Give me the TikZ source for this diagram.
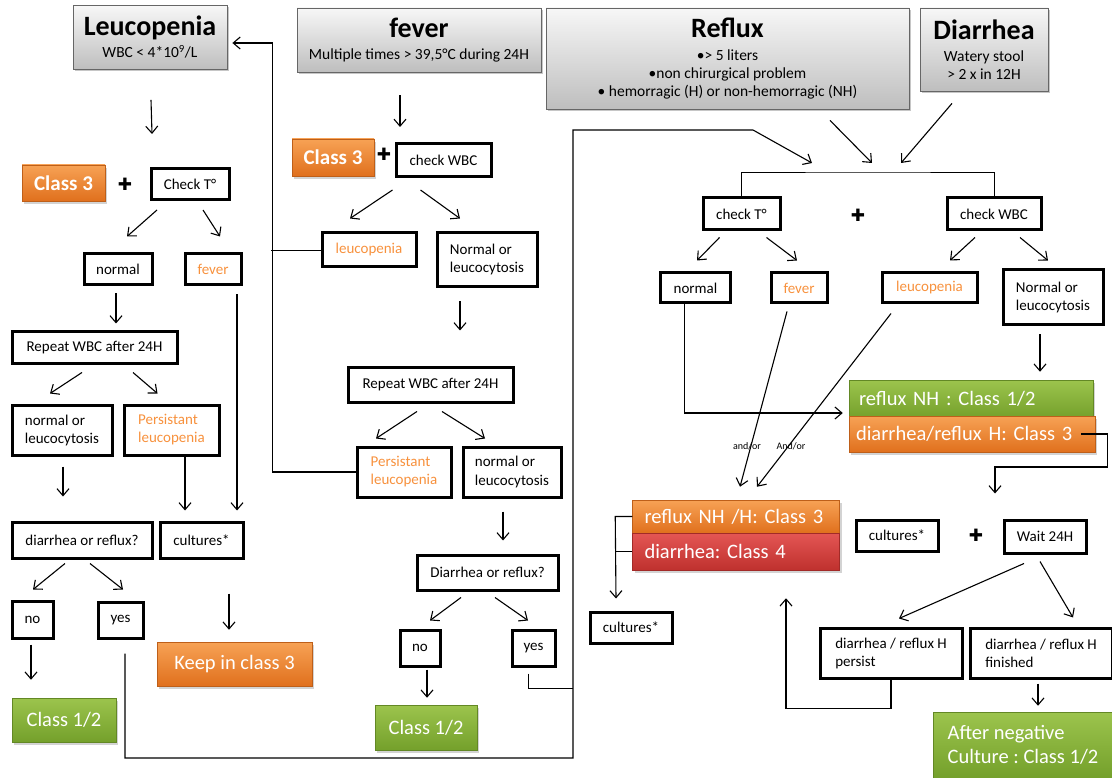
\documentclass[tikz,border=0pt]{standalone}
\usepackage{fontspec}
\setmainfont{Carlito}
\newfontfamily\symfont{DejaVu Sans}
\usetikzlibrary{arrows.meta,shadows}

\definecolor{hdrtop}{HTML}{F7F7F7}
\definecolor{hdrbot}{HTML}{BEBEBE}
\definecolor{orgtop}{HTML}{F7A255}
\definecolor{orgbot}{HTML}{E0701D}
\definecolor{grntop}{HTML}{9CC44D}
\definecolor{grnbot}{HTML}{74A02B}
\definecolor{redtop}{HTML}{E45654}
\definecolor{redbot}{HTML}{BF312E}
\definecolor{orgtxt}{HTML}{F7913D}

\newcommand\hdtitle[1]{{\fontsize{28}{30}\selectfont\bfseries #1}}

\tikzset{
  arr/.style={-{Straight Barb[length=7pt,width=12pt]}, line width=1.1pt},
  sz/.style 2 args={minimum width=#1, minimum height=#2},
  box/.style={draw, line width=3pt, inner sep=3pt, align=center, font=\fontsize{15}{18}\selectfont},
  boxl/.style={box, align=left},
  warn/.style={box, text=orgtxt},
  hdr/.style={draw=black!60, line width=0.8pt, top color=hdrtop, bottom color=hdrbot,
    align=center, inner sep=2pt, font=\fontsize{15.5}{18}\selectfont,
    drop shadow={shadow xshift=2pt, shadow yshift=-2pt, opacity=0.45}},
  cls/.style={text=white, inner sep=0pt, font=\fontsize{20.5}{24}\selectfont,
    drop shadow={shadow xshift=2pt, shadow yshift=-3pt, opacity=0.35}},
  orng/.style={cls, top color=orgtop, bottom color=orgbot, draw=orgbot!85!black, line width=0.5pt},
  grn/.style={cls, top color=grntop, bottom color=grnbot, draw=grnbot!85!black, line width=0.5pt},
  rd/.style={cls, top color=redtop, bottom color=redbot, draw=redbot!85!black, line width=0.5pt},
  plus/.style={font=\symfont\fontsize{17}{17}\selectfont, inner sep=0pt},
  hint/.style={font=\fontsize{10}{12}\selectfont, inner sep=1pt}
}

\begin{document}
\frenchspacing
\begin{tikzpicture}[x=1pt, y=-1pt]
\useasboundingbox (0,0) rectangle (1112,778);

% headers
\node[hdr, sz={154}{64}] (leuH) at (150,37.5) {\hdtitle{Leucopenia}\\[4pt] WBC < 4*10\textsuperscript{9}/L};
\node[hdr, sz={244}{64}] (fevH) at (419,40) {\hdtitle{fever}\\[4pt] Multiple times > 39,5°C during 24H};
\node[hdr, sz={363}{101}] (refH) at (727.5,58.5) {\hdtitle{Reflux}\\[5pt] •> 5 liters\\ •non chirurgical problem\\ • hemorragic (H) or non-hemorragic (NH)};
\node[hdr, sz={128}{83}] (diaH) at (984,49.5) {\hdtitle{Diarrhea}\\[4pt] Watery stool\\ > 2 x in 12H};

% leucopenia column
\node[orng, sz={83}{36}, font=\fontsize{21}{24}\selectfont\bfseries] (cls3a) at (63.5,183) {Class 3};
\node[plus] (plus1) at (125,184) {✚};
\node[box, sz={78}{31}] (chkT) at (190,184) {Check T°};
\node[box, sz={68}{31}] (normA) at (118,269.5) {normal};
\node[warn, sz={56}{31}] (fevA) at (213,269.5) {fever};
\node[box, sz={165}{31}] (repA) at (94.5,347.5) {Repeat WBC after 24H};
\node[boxl, sz={100}{50}] (nlA) at (62,430) {normal or\\leucocytosis};
\node[warn, align=left, sz={95}{50}] (plA) at (171.5,430) {Persistant\\leucopenia};
\node[box, sz={140}{36}] (dorA) at (82,540) {diarrhea or reflux?};
\node[box, sz={83}{36}] (culA) at (201.5,540) {cultures*};
\node[box, sz={41}{37}] (noA) at (32.5,619.5) {no};
\node[box, sz={45}{36}] (yesA) at (120.5,620) {yes};
\node[grn, sz={104}{44}] (c12A) at (64,720) {Class 1/2};
\node[orng, sz={155}{44}] (keepA) at (234.5,664) {Keep in class 3};

% fever column
\node[orng, sz={82}{37}, font=\fontsize{21}{24}\selectfont\bfseries] (cls3b) at (333,157.5) {Class 3};
\node[plus] (plus2) at (384,154) {✚};
\node[box, sz={95}{33}] (chkWB) at (443.5,160) {check WBC};
\node[warn, sz={94}{34}] (leuB) at (369,250) {leucopenia};
\node[boxl, sz={100}{54}] (nlB) at (487,260) {Normal or\\leucocytosis};
\node[box, sz={165}{35}] (repB) at (430.5,384.5) {Repeat WBC after 24H};
\node[warn, align=left, sz={94}{50}] (plB) at (404,472) {Persistant\\leucopenia};
\node[boxl, sz={98}{50}] (nlB2) at (512,472) {normal or\\leucocytosis};
\node[box, sz={141}{35}] (dorB) at (487.5,572.5) {Diarrhea or reflux?};
\node[box, sz={40}{36}] (noB) at (420,648) {no};
\node[box, sz={43}{36}] (yesB) at (533.5,648) {yes};
\node[grn, sz={102}{45}] (c12B) at (426,727.5) {Class 1/2};

% reflux / diarrhea part
\node[box, sz={77}{32}] (chkTR) at (741.5,214) {check T°};
\node[plus] (plus3) at (858,215) {✚};
\node[box, sz={94}{32}] (chkWR) at (994,214) {check WBC};
\node[box, sz={70}{30}] (normR) at (695.5,288) {normal};
\node[warn, sz={56}{30}] (fevR) at (799,288) {fever};
\node[warn, sz={95}{30}] (leuR) at (929.5,288) {leucopenia};
\node[boxl, sz={100}{55}] (nlR) at (1053,297.5) {Normal or\\leucocytosis};
\node[grn, sz={244}{38}, inner xsep=10pt, text width=224pt, align=left] (nhG) at (971,399) {reflux NH : Class 1/2};
\node[orng, sz={246}{36}, inner xsep=7pt, text width=232pt, align=left] (hO) at (972,434) {diarrhea/reflux H: Class 3};
\node[orng, sz={207}{33}, inner xsep=12pt, text width=183pt, align=left] (c3O) at (736,516.5) {reflux NH /H: Class 3};
\node[rd, sz={207}{37}, inner xsep=12pt, text width=183pt, align=left] (c4R) at (736,551.5) {diarrhea: Class 4};
\node[hint] (ao1) at (747,446) {and/or};
\node[hint] (ao2) at (791,446) {And/or};
\node[box, sz={82}{31}] (culL) at (631,627.5) {cultures*};
\node[box, sz={82}{31}] (culR) at (897,535.5) {cultures*};
\node[plus] (plus4) at (976,535) {✚};
\node[box, sz={82}{33}] (waitR) at (1045,536.5) {Wait 24H};
\node[boxl, sz={142}{50}] (perR) at (891,653) {diarrhea / reflux H\\persist};
\node[boxl, sz={142}{50}] (finR) at (1041,653) {diarrhea / reflux H\\finished};
\node[grn, sz={180}{66}, align=left] (negG) at (1023,745) {After negative\\Culture : Class 1/2};

\coordinate (join) at (868,172);
\coordinate (lowR) at (573,758);
\coordinate (upL) at (573,130);
\coordinate (upR) at (753,130);
\coordinate (yesJ) at (573,688);

% leucopenia arrows
\draw[arr] ([shift={(1,30)}]leuH.south) -- ([shift={(-38,-33)}]chkT.north);
\draw[arr] ([shift={(-33,9)}]chkT.south) -- ([shift={(9,-16)}]normA.north);
\draw[arr] ([shift={(13,9)}]chkT.south) -- ([shift={(7,-16)}]fevA.north);
\draw[arr] ([shift={(-2,7)}]normA.south) -- ([shift={(21.5,-7)}]repA.north);
\draw[arr] ([shift={(-12.5,8)}]repA.south) -- ([shift={(-12,-10)}]nlA.north);
\draw[arr] ([shift={(38.5,8)}]repA.south) -- ([shift={(-14,-10)}]plA.north);
\draw[arr] ([shift={(1,10)}]nlA.south) -- ([shift={(-19,-24)}]dorA.north);
\draw[arr] ([shift={(13.5,0)}]plA.south) -- ([shift={(-16.5,-10)}]culA.north);
\draw[arr] ([shift={(24,8)}]fevA.south) -- ([shift={(35.5,-10)}]culA.north);
\draw[arr] ([shift={(-17,4)}]dorA.south) -- ([shift={(0.5,-10)}]noA.north);
\draw[arr] ([shift={(8,4)}]dorA.south) -- ([shift={(2.5,-11)}]yesA.north);
\draw[arr] ([shift={(-1.5,5)}]noA.south) -- ([shift={(-33,-18)}]c12A.north);
\draw[arr] ([shift={(27.5,34)}]culA.south) -- ([shift={(-5.5,-12)}]keepA.north);

% fever arrows
\draw[arr] ([shift={(-19,23)}]fevH.south) -- ([shift={(-43.5,-15)}]chkWB.north);
\draw[arr] ([shift={(-51,12)}]chkWB.south) -- ([shift={(-19,-13)}]leuB.north);
\draw[arr] ([shift={(-23,12)}]chkWB.south) -- ([shift={(-27,-13)}]nlB.north);
\draw[arr] ([shift={(-27,13)}]nlB.south) -- ([shift={(29.5,-35)}]repB.north);
\draw[arr] ([shift={(-13.5,8)}]repB.south) -- ([shift={(-28,-7)}]plB.north);
\draw[arr] ([shift={(11.5,8)}]repB.south) -- ([shift={(-27,-7)}]nlB2.north);
\draw[arr] ([shift={(-9,13)}]nlB2.south) -- ([shift={(15.5,-13)}]dorB.north);
\draw[arr] ([shift={(-26.5,6)}]dorB.south) -- ([shift={(10,-8)}]noB.north);
\draw[arr] ([shift={(7.5,6)}]dorB.south) -- ([shift={(-5.5,-8)}]yesB.north);
\draw[arr] ([shift={(7,2)}]noB.south) -- ([shift={(1,-7)}]c12B.north);

% back to leucopenia
\draw (leuB.west) -- ([xshift=-85]plB.west |- leuB.west);
\draw[arr] (plB.west) -| ([shift={(45,5.5)}]leuH.east) -- ([shift={(5,5.5)}]leuH.east);

% yes lines to the reflux part
\draw[arr] ([shift={(4.5,14)}]yesA.south) |- (lowR) -- (upL) -- (upR) -- ([shift={(-56,-9)}]join);
\draw ([shift={(-5.5,6)}]yesB.south) |- (yesJ);

% reflux / diarrhea arrows
\draw[arr] ([shift={(102.5,11)}]refH.south) -- ([shift={(4,-9)}]join);
\draw[arr] ([shift={(-32,12)}]diaH.south) -- ([shift={(33,-9)}]join);
\draw (chkTR.north) |- (join) -| (chkWR.north);
\draw[arr] ([shift={(-22,6)}]chkTR.south) -- ([shift={(1.5,-11)}]normR.north);
\draw[arr] ([shift={(25,6)}]chkTR.south) -- ([shift={(-2,-11)}]fevR.north);
\draw[arr] ([shift={(-19,6)}]chkWR.south) -- ([shift={(20.5,-11)}]leuR.north);
\draw[arr] ([shift={(26,6)}]chkWR.south) -- ([shift={(-5,-8)}]nlR.north);
\draw[arr] ([xshift=-11]normR.south) |- ([shift={(-6,14)}]nhG.west);
\draw[arr] ([shift={(-13,8)}]nlR.south) -- ([shift={(69,-8)}]nhG.north);
\draw[arr] ([shift={(-12,7)}]fevR.south) -- ([shift={(4,-13)}]c3O.north);
\draw[arr] ([shift={(-38.5,9)}]leuR.south) -- ([shift={(21,-13)}]c3O.north);
\draw[arr] ([xshift=-14]hO.east) -- ([xshift=12]hO.east) -- ++(0,33) -| ([shift={(-50,-25)}]waitR.north);
\draw (c4R.west) -- ++(-17,0);
\draw[arr] (c3O.west) -- ++(-17,0) -- ([shift={(-15,-12)}]culL.north);
\draw[arr] ([shift={(-21,9)}]waitR.south) -- ([shift={(8,-8)}]perR.north);
\draw[arr] ([shift={(-5,7)}]waitR.south) -- ([shift={(32,-9)}]finR.north);
\draw[arr] (perR.south) -- ++(0,29) -| ([shift={(50,28)}]c4R.south);
\draw[arr] ([shift={(-3,4)}]finR.south) -- ([shift={(15,-6)}]negG.north);

\end{tikzpicture}
\end{document}
